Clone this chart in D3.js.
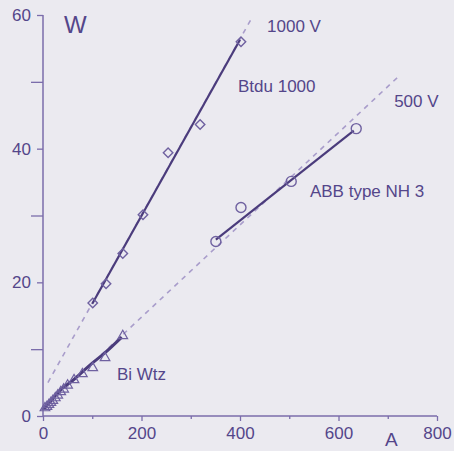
<!DOCTYPE html>
<html>
<head>
<meta charset="utf-8">
<script src="https://cdn.jsdelivr.net/npm/d3@7"></script>
<style>
  body { margin: 0; background: #ebeaf0; }
  svg { display: block; font-family: "Liberation Sans", Arial, sans-serif; }
</style>
</head>
<body>
<div id="chart"></div>
<script>
// data (A vs W)
var btduData = [[101, 16.9], [128, 19.8], [162, 24.3], [203, 30.1], [254, 39.4], [319, 43.6], [402, 56.0]];
var btduFit = [[100, 16.8], [400, 56.3]];
var abbData = [[351, 26.1], [402, 31.2], [504, 35.1], [636, 43.0]];
var abbFit = [[351, 26.4], [631, 42.7]];
var wtzData = [[4, 1.2], [8, 1.4], [12, 1.7], [16, 2.0], [20, 2.3], [25, 2.7], [30, 3.1], [36, 3.6],
  [42, 4.0], [50, 4.6], [63, 5.4], [80, 6.3], [101, 7.2], [126, 8.7], [162, 12.0]];
var wtzLine = [[2, 1.0], [20, 2.6], [40, 4.2], [60, 5.3], [80, 6.6], [100, 7.9], [125, 9.4], [160, 11.8]];
var ref1000 = [[10, 5.0], [422, 59.3]];
var ref500 = [[0, 1.0], [719, 50.6]];
var xTicks = [0, 200, 400, 600, 800];
var xMinor = [100, 300, 500, 700];
var yTicks = [0, 20, 40, 60];
var yMinor = [10, 30, 50];
var labels = [
  { text: "1000 V", x: 455, y: 57.4 },
  { text: "Btdu 1000", x: 396, y: 48.5 },
  { text: "500 V", x: 713, y: 46.3 },
  { text: "ABB type NH 3", x: 542, y: 32.7 },
  { text: "Bi Wtz", x: 150, y: 5.4 }
];

var width = 454, height = 451;
var axisCol = "#7b6dab", textCol = "#54468a", lineCol = "#4b3c7c", markCol = "#6f61a0";

var svg = d3.select("#chart").append("svg")
  .attr("width", width)
  .attr("height", height);

svg.append("rect").attr("width", width).attr("height", height).attr("fill", "#ebeaf0");

var x = d3.scaleLinear().domain([0, 800]).range([43, 437]);
var y = d3.scaleLinear().domain([0, 60]).range([416, 15]);

// axes
var xAxis = svg.append("g").attr("transform", "translate(0," + y(0) + ")")
  .call(d3.axisBottom(x).tickValues(xTicks).tickSize(5).tickPadding(6));
svg.append("g").attr("transform", "translate(0," + y(0) + ")")
  .call(d3.axisBottom(x).tickValues(xMinor).tickSize(3).tickFormat(""))
  .select(".domain").remove();
var yAxis = svg.append("g").attr("transform", "translate(" + x(0) + ",0)")
  .call(d3.axisLeft(y).tickValues(yTicks).tickSize(6).tickPadding(6));
svg.append("g").attr("transform", "translate(" + x(0) + ",0)")
  .call(d3.axisLeft(y).tickValues(yMinor).tickSize(12).tickFormat(""))
  .select(".domain").remove();

svg.selectAll(".domain").attr("stroke", axisCol).attr("stroke-width", 1.5);
yAxis.select(".domain").attr("d", "M0," + y(60) + "V" + y(0));
xAxis.select(".domain").attr("d", "M" + x(0) + ",0H" + x(800));
svg.selectAll(".tick line").attr("stroke", axisCol).attr("stroke-width", 1.3);
svg.selectAll(".tick text").attr("fill", textCol).style("font-size", "17px").style("font-family", "Liberation Sans, Arial, sans-serif");

// unit labels
svg.append("text").attr("x", 64).attr("y", 33).attr("fill", textCol).style("font-size", "24px").text("W");
svg.append("text").attr("x", 385).attr("y", 446).attr("fill", textCol).style("font-size", "19px").text("A");

var line = d3.line().x(function (d) { return x(d[0]); }).y(function (d) { return y(d[1]); });

// dashed reference lines
[ref1000, ref500].forEach(function (r) {
  svg.append("path").attr("d", line(r)).attr("fill", "none")
    .attr("stroke", "#a99dcb").attr("stroke-width", 1.6).attr("stroke-dasharray", "5,5");
});

// fitted lines
[btduFit, abbFit].forEach(function (r) {
  svg.append("path").attr("d", line(r)).attr("fill", "none")
    .attr("stroke", lineCol).attr("stroke-width", 2.2);
});
svg.append("path").attr("d", d3.line().curve(d3.curveMonotoneX)
    .x(function (d) { return x(d[0]); }).y(function (d) { return y(d[1]); })(wtzLine))
  .attr("fill", "none").attr("stroke", lineCol).attr("stroke-width", 3);

// markers
svg.append("g").selectAll("path").data(btduData).enter().append("path")
  .attr("d", d3.symbol().type(d3.symbolSquare).size(45))
  .attr("transform", function (d) { return "translate(" + x(d[0]) + "," + y(d[1]) + ") rotate(45)"; })
  .attr("fill", "none").attr("stroke", markCol).attr("stroke-width", 1.4);

svg.append("g").selectAll("circle").data(abbData).enter().append("circle")
  .attr("cx", function (d) { return x(d[0]); })
  .attr("cy", function (d) { return y(d[1]); })
  .attr("r", 5)
  .attr("fill", "none").attr("stroke", markCol).attr("stroke-width", 1.4);

svg.append("g").selectAll("path").data(wtzData).enter().append("path")
  .attr("d", d3.symbol().type(d3.symbolTriangle).size(40))
  .attr("transform", function (d) { return "translate(" + x(d[0]) + "," + y(d[1]) + ")"; })
  .attr("fill", "none").attr("stroke", markCol).attr("stroke-width", 1.2);

// series labels
svg.append("g").selectAll("text").data(labels).enter().append("text")
  .attr("x", function (d) { return x(d.x); })
  .attr("y", function (d) { return y(d.y); })
  .attr("fill", textCol)
  .style("font-size", "17px")
  .text(function (d) { return d.text; });
</script>
</body>
</html>
